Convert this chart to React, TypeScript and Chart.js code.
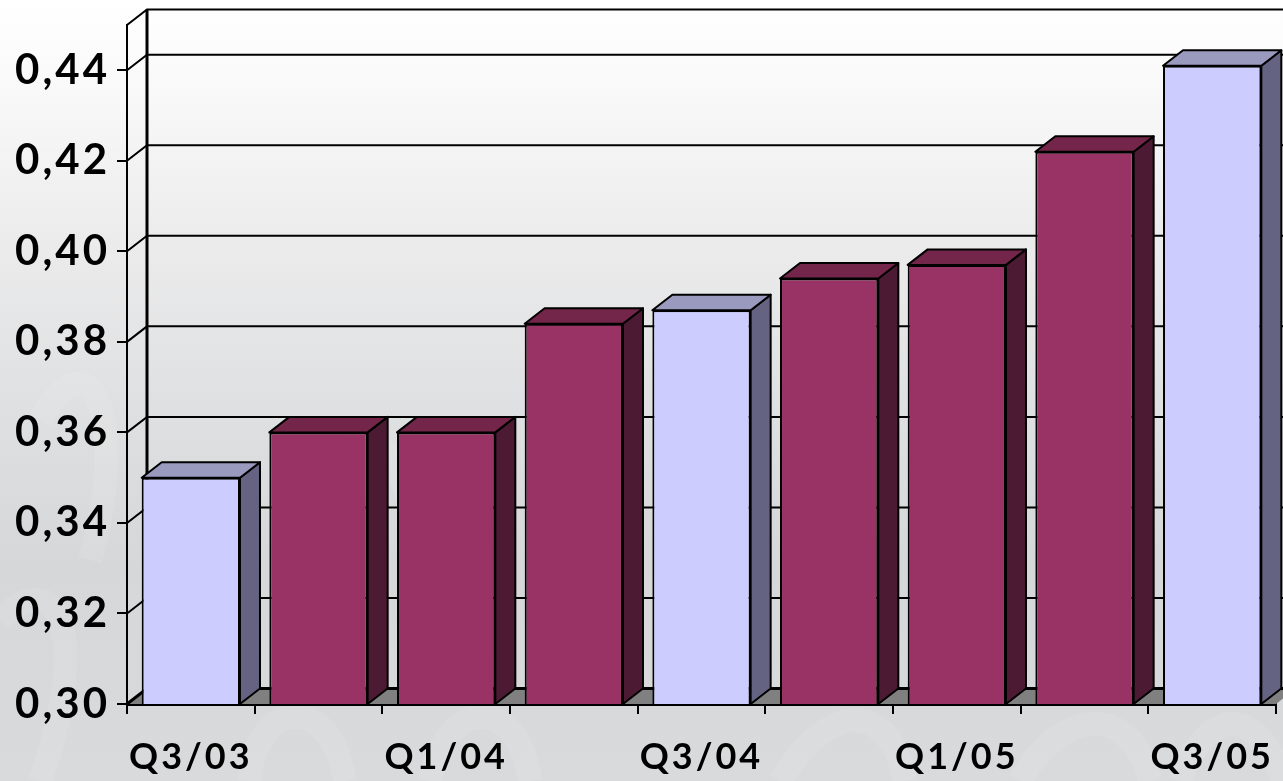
import React, { useEffect, useRef } from "react";
import { Chart, registerables } from "chart.js";

Chart.register(...registerables);

const categories = ["Q3/03", "Q4/03", "Q1/04", "Q2/04", "Q3/04", "Q4/04", "Q1/05", "Q2/05", "Q3/05"];
const values = [0.35, 0.36, 0.36, 0.384, 0.387, 0.394, 0.397, 0.422, 0.441];
const LIGHT = { front: "#ccccff", top: "#9a9abf", side: "#646482" };
const DARK = { front: "#993366", top: "#732649", side: "#4d1a33" };
const palette = [LIGHT, DARK, DARK, DARK, LIGHT, DARK, DARK, DARK, LIGHT];
const yMin = 0.3;
const yMax = 0.45;
const yStep = 0.02;
const DX = 20;
const DY = 15.5;

const watermark: number[][] = [
  [250, 781, 255, 700, 330, 690, 345, 781],
  [430, 781, 450, 690, 520, 700, 530, 781],
  [780, 781, 830, 700, 890, 700, 905, 781],
  [1020, 781, 1060, 710, 1130, 700, 1150, 781],
  [0, 620, 60, 560, 90, 640, 40, 781],
  [300, 560, 330, 400, 400, 400, 420, 560],
  [40, 420, 90, 330, 130, 420, 90, 560],
  [1180, 781, 1210, 700, 1260, 710, 1283, 781],
];

const threeD = {
  id: "threeD",
  beforeDraw(chart: any) {
    const { ctx, width, height } = chart;
    (ctx as any).letterSpacing = "3px";
    const g = ctx.createLinearGradient(0, 0, 0, height);
    g.addColorStop(0, "#ffffff");
    g.addColorStop(0.13, "#f8f8f9");
    g.addColorStop(0.3, "#ececed");
    g.addColorStop(0.5, "#e0e1e2");
    g.addColorStop(0.72, "#d6d7d8");
    g.addColorStop(1, "#d9dadb");
    ctx.save();
    ctx.fillStyle = g;
    ctx.fillRect(0, 0, width, height);
    ctx.strokeStyle = "rgba(255,255,255,0.09)";
    ctx.lineWidth = 24;
    for (const w of watermark) {
      ctx.beginPath();
      ctx.moveTo(w[0], w[1]);
      ctx.bezierCurveTo(w[2], w[3], w[4], w[5], w[6], w[7]);
      ctx.stroke();
    }
    ctx.restore();
  },
  beforeDatasetsDraw(chart: any) {
    const { ctx, chartArea: a, scales } = chart;
    const y = scales.y;
    ctx.save();
    // floor
    ctx.fillStyle = "#808080";
    ctx.beginPath();
    ctx.moveTo(a.left, a.bottom);
    ctx.lineTo(a.left + DX, a.bottom - DY);
    ctx.lineTo(a.right + DX, a.bottom - DY);
    ctx.lineTo(a.right, a.bottom);
    ctx.closePath();
    ctx.fill();
    ctx.strokeStyle = "#000";
    ctx.lineWidth = 2;
    // grid on back wall, with slanted connections on the side wall
    const levels = y.ticks.map((t: any) => t.value).concat([yMax]);
    for (const v of levels) {
      const py = y.getPixelForValue(v);
      ctx.lineWidth = v === yMin ? 3 : 2;
      ctx.beginPath();
      ctx.moveTo(a.left, py);
      ctx.lineTo(a.left + DX, py - DY);
      ctx.lineTo(a.right + DX, py - DY);
      ctx.stroke();
    }
    // back wall vertical edge
    ctx.lineWidth = 3;
    ctx.beginPath();
    ctx.moveTo(a.left + DX, a.top - DY);
    ctx.lineTo(a.left + DX, a.bottom - DY);
    ctx.stroke();
    ctx.restore();
  },
  afterDatasetsDraw(chart: any) {
    const { ctx, chartArea } = chart;
    const meta = chart.getDatasetMeta(0);
    ctx.save();
    ctx.strokeStyle = "#000";
    ctx.lineWidth = 2;
    ctx.lineJoin = "round";
    meta.data.forEach((bar: any, i: number) => {
      const c = palette[i];
      const l = bar.x - bar.width / 2;
      const r = bar.x + bar.width / 2;
      const t = bar.y;
      const b = Math.min(bar.base, chartArea.bottom);
      ctx.fillStyle = c.side;
      ctx.beginPath();
      ctx.moveTo(r, t);
      ctx.lineTo(r + DX, t - DY);
      ctx.lineTo(r + DX, b - DY);
      ctx.lineTo(r, b);
      ctx.closePath();
      ctx.fill();
      ctx.stroke();
      ctx.fillStyle = c.top;
      ctx.beginPath();
      ctx.moveTo(l, t);
      ctx.lineTo(l + DX, t - DY);
      ctx.lineTo(r + DX, t - DY);
      ctx.lineTo(r, t);
      ctx.closePath();
      ctx.fill();
      ctx.stroke();
    });
    ctx.restore();
  },
};

export default function App() {
  const ref = useRef<HTMLCanvasElement>(null);
  useEffect(() => {
    const chart = new Chart(ref.current as HTMLCanvasElement, {
      type: "bar",
      data: {
        labels: categories,
        datasets: [
          {
            data: values,
            backgroundColor: palette.map((c) => c.front),
            borderColor: "#000",
            borderWidth: 2,
            borderSkipped: false,
            barPercentage: 0.77,
            categoryPercentage: 1,
          } as any,
        ],
      },
      plugins: [threeD as any],
      options: {
        animation: false,
        responsive: false,
        devicePixelRatio: 1,
        layout: { padding: { top: 25, right: 7, left: 0, bottom: 0 } },
        plugins: { legend: { display: false }, tooltip: { enabled: false }, title: { display: false } },
        scales: {
          x: {
            offset: true,
            grid: { display: true, drawOnChartArea: false, drawTicks: true, tickLength: 10, color: "#000", lineWidth: 2, offset: true },
            border: { display: true, color: "#000", width: 3 },
            afterFit: (s: any) => { s.height = 77; s.paddingLeft = 0; s.paddingRight = 0; },
            ticks: {
              autoSkip: false,
              maxRotation: 0,
              minRotation: 0,
              padding: 22,
              color: "#000",
              font: { family: "Lato", size: 36, weight: "bold" },
              callback(_v: any, i: number) { return i % 2 === 0 ? categories[i] : ""; },
            },
          },
          y: {
            min: yMin,
            max: yMax,
            grid: { display: true, drawOnChartArea: false, drawTicks: true, tickLength: 10, color: "#000", lineWidth: 2 },
            border: { display: true, color: "#000", width: 2 },
            afterFit: (s: any) => { s.width = 127; s.paddingTop = 0; s.paddingBottom = 0; },
            ticks: {
              stepSize: yStep,
              includeBounds: false,
              padding: 7,
              color: "#000",
              font: { family: "Lato", size: 42, weight: "bold" },
              callback(v: any) { return Number(v).toFixed(2).replace(".", ","); },
            },
          },
        },
      },
    } as any);
    return () => chart.destroy();
  }, []);
  return (
    <div style={{ position: "fixed", left: 0, top: 0, width: 1283, height: 781, overflow: "hidden" }}>
      <canvas ref={ref} width={1283} height={781} style={{ display: "block" }} />
    </div>
  );
}
